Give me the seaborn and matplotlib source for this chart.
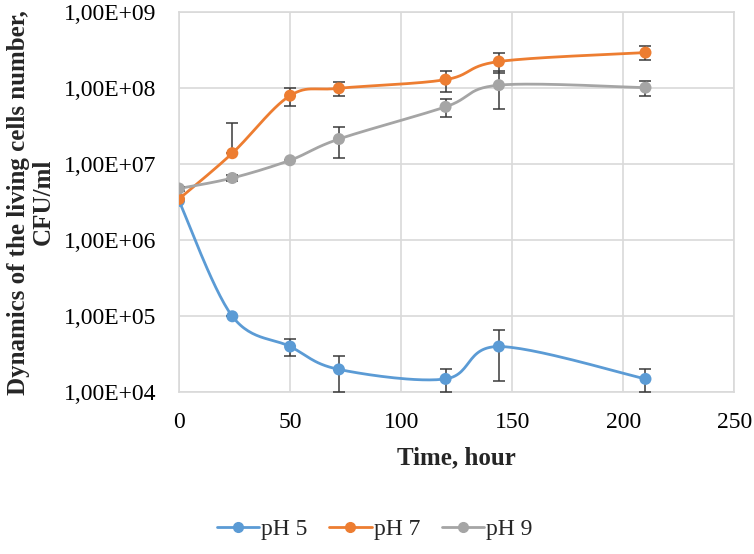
import numpy as np
import pandas as pd
import matplotlib
matplotlib.use("Agg")
import matplotlib.pyplot as plt
import seaborn as sns
from matplotlib.lines import Line2D
from matplotlib.ticker import FuncFormatter, FixedLocator

# ==========================================
# Data
# ==========================================
time_h = [0, 24, 50, 72, 120, 144, 210]

ph5 = [3.3e6, 1.0e5, 4.0e4, 2.0e4, 1.5e4, 4.0e4, 1.5e4]
ph5_err = [0, 0, 1.0e4, 1.0e4, 5.0e3, 2.6e4, 5.0e3]

ph7 = [3.5e6, 1.4e7, 8.0e7, 1.0e8, 1.3e8, 2.25e8, 2.95e8]
ph7_err = [0, 2.1e7, 2.2e7, 2.2e7, 4.0e7, 6.5e7, 6.0e7]

ph9 = [4.8e6, 6.6e6, 1.13e7, 2.15e7, 5.7e7, 1.1e8, 1.02e8]
ph9_err = [3.0e5, 6.0e5, 0, 9.5e6, 1.5e7, 5.7e7, 2.3e7]

series_names = ["pH 5", "pH 7", "pH 9"]
series_colors = ["#5B9BD5", "#ED7D31", "#A5A5A5"]

y_ticks = [1e4, 1e5, 1e6, 1e7, 1e8, 1e9]
x_ticks = [0, 50, 100, 150, 200, 250]

df = pd.DataFrame({
    "time": time_h * 3,
    "cfu": ph5 + ph7 + ph9,
    "err": ph5_err + ph7_err + ph9_err,
    "series": [n for n in series_names for _ in time_h],
})


# smoothed line like Excel (Catmull-Rom in x / log10(y) space)
def smooth_curve(x, y, n=30):
    px = np.asarray(x, dtype=float)
    py = np.log10(np.asarray(y, dtype=float))
    pts = np.column_stack([px, py])
    pts = np.vstack([pts[0], pts, pts[-1]])
    out = []
    t = np.linspace(0, 1, n)
    for i in range(1, len(pts) - 2):
        p0, p1, p2, p3 = pts[i - 1], pts[i], pts[i + 1], pts[i + 2]
        c1 = p1 + (p2 - p0) / 6
        c2 = p2 - (p3 - p1) / 6
        seg = ((1 - t) ** 3)[:, None] * p1 + (3 * (1 - t) ** 2 * t)[:, None] * c1 \
            + (3 * (1 - t) * t ** 2)[:, None] * c2 + (t ** 3)[:, None] * p2
        out.append(seg)
    out = np.vstack(out)
    return out[:, 0], 10 ** out[:, 1]


# ==========================================
# Plot
# ==========================================
sns.set_style("white")
plt.rcParams["font.family"] = ["Liberation Serif", "DejaVu Serif"]

fig = plt.figure(figsize=(7.54, 5.54), dpi=100)
ax = fig.add_axes([0.2374, 0.2919, 0.7365, 0.6859])

for name, color in zip(series_names, series_colors):
    sub = df[df["series"] == name]
    sx, sy = smooth_curve(sub["time"], sub["cfu"])
    ax.plot(sx, sy, color=color, linewidth=2, zorder=2)
    low = np.where(sub["cfu"] - sub["err"] > 0, sub["err"], 0)
    ax.errorbar(sub["time"], sub["cfu"], yerr=[low, sub["err"]], fmt="none",
                ecolor="#3a3a3a", elinewidth=1.1, capsize=4, capthick=1.1, zorder=3)

sns.scatterplot(data=df, x="time", y="cfu", hue="series", palette=series_colors,
                s=75, edgecolor="none", legend=False, zorder=4, ax=ax)

ax.set_yscale("log")
ax.set_xlim(0, 250)
ax.set_ylim(1e4, 1e9)
ax.xaxis.set_major_locator(FixedLocator(x_ticks))
ax.yaxis.set_major_locator(FixedLocator(y_ticks))
ax.yaxis.set_minor_locator(FixedLocator([]))
ax.yaxis.set_major_formatter(FuncFormatter(
    lambda v, p: "1,00E+{:02d}".format(int(round(np.log10(v))))))
ax.tick_params(axis="both", length=0, labelsize=17, colors="black")
ax.tick_params(axis="y", pad=16)
ax.tick_params(axis="x", pad=14)
ax.grid(True, color="#d9d9d9", linewidth=1.2)
for sp in ax.spines.values():
    sp.set_color("#d9d9d9")
    sp.set_linewidth(1.2)

ax.set_xlabel("Time, hour", fontsize=18, fontweight="bold", labelpad=10)
ax.set_ylabel("Dynamics of the living cells number,\nCFU/ml", fontsize=18,
              fontweight="bold", labelpad=7, linespacing=1.1)

handles = [Line2D([0], [0], color=c, linewidth=2, marker="o", markersize=7)
           for c in series_colors]
fig.legend(handles, series_names, loc="center", bbox_to_anchor=(0.497, 0.045),
           ncol=3, frameon=False, fontsize=17, handlelength=1.8,
           handletextpad=0.1, columnspacing=0.9)

fig.savefig("out.png", dpi=100)
